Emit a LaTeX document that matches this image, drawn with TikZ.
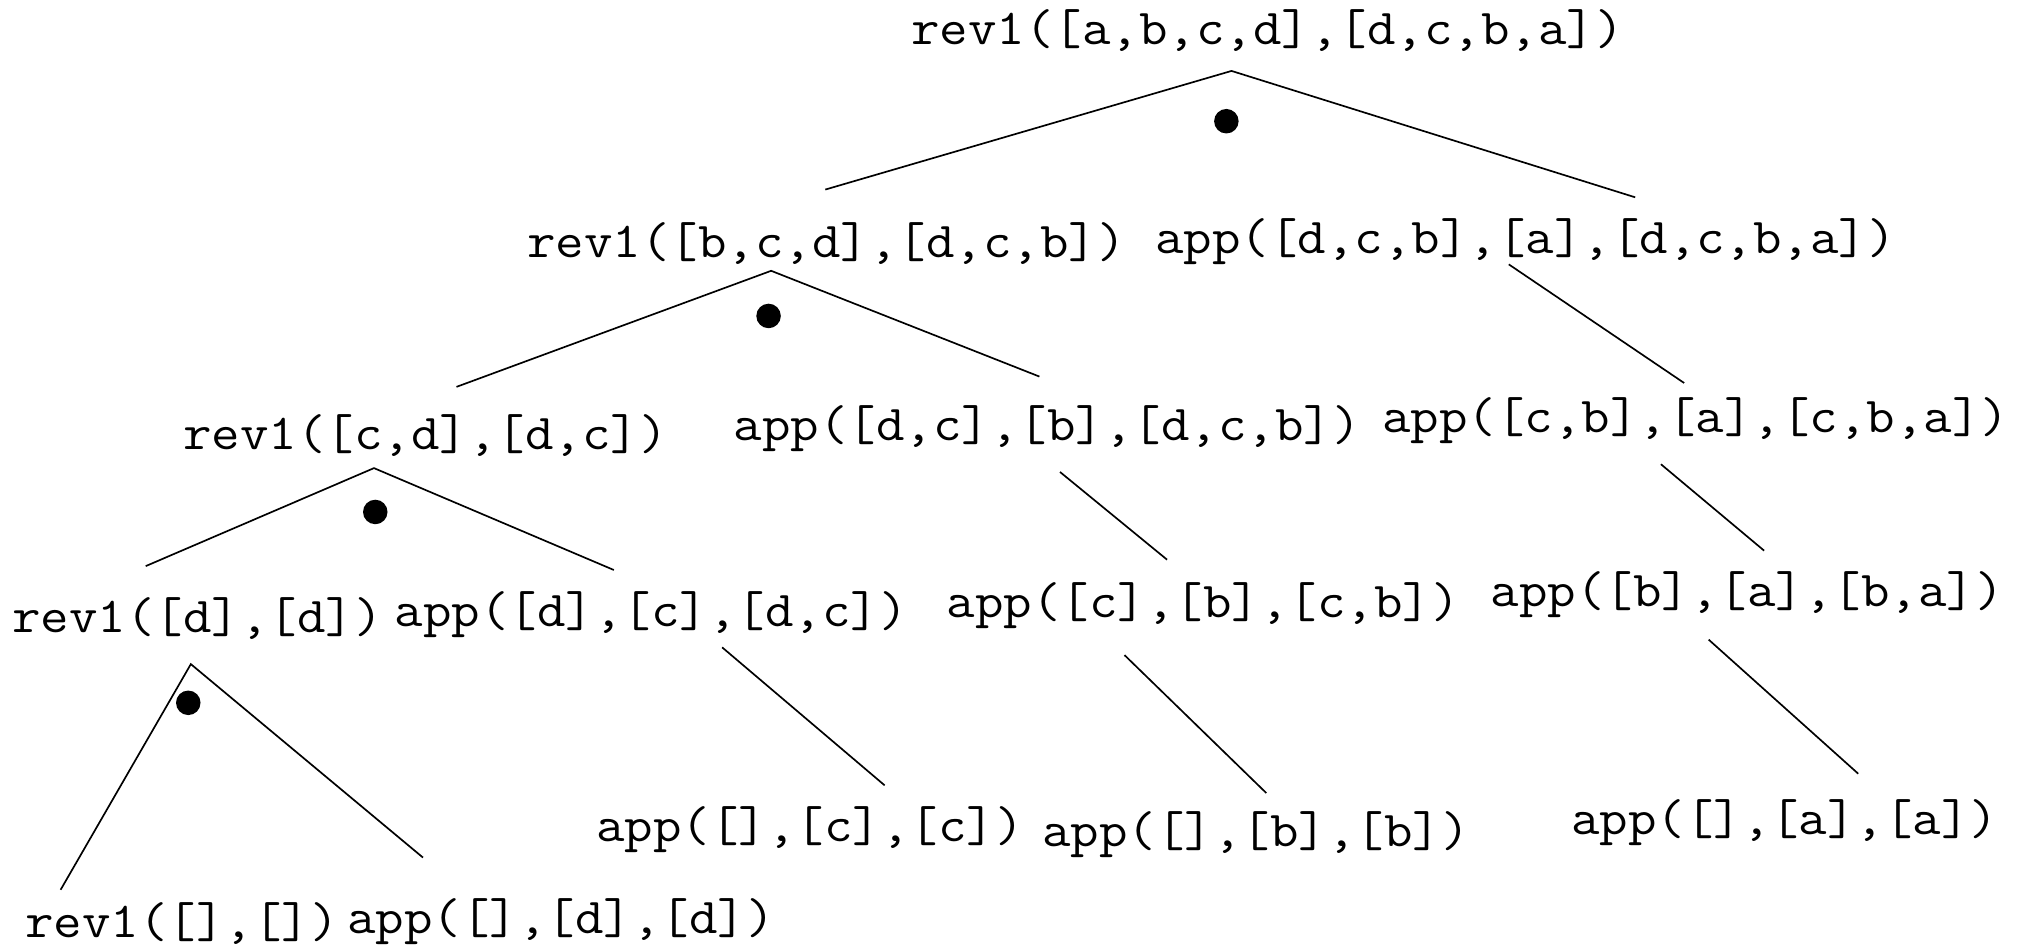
\documentclass[tikz,border=0pt]{standalone}
\usepackage{fontspec}
\setmonofont[FakeStretch=1.10]{Latin Modern Mono}
\begin{document}
\begin{tikzpicture}[x=1pt,y=-1pt,
  lbl/.style={inner sep=0pt,anchor=center,font=\ttfamily\fontsize{39}{42}\selectfont},
  edge/.style={line width=1.3pt},
  choice/.style={fill=black}]
\useasboundingbox (0,0) rectangle (1568,736);
% nodes
\node[lbl] (n0) at (983,24) {rev1([a,b,c,d],[d,c,b,a])};
\node[lbl] (n1) at (641,189) {rev1([b,c,d],[d,c,b])};
\node[lbl] (n2) at (1183,187) {app([d,c,b],[a],[d,c,b,a])};
\node[lbl] (n3) at (330,338) {rev1([c,d],[d,c])};
\node[lbl] (n4) at (812,332) {app([d,c],[b],[d,c,b])};
\node[lbl] (n5) at (1315,326) {app([c,b],[a],[c,b,a])};
\node[lbl] (n6) at (153,480) {rev1([d],[d])};
\node[lbl] (n7) at (505,477) {app([d],[c],[d,c])};
\node[lbl] (n8) at (933,470) {app([c],[b],[c,b])};
\node[lbl] (n9) at (1355,461) {app([b],[a],[b,a])};
\node[lbl] (n10) at (141,716) {rev1([],[])};
\node[lbl] (n11) at (435,715) {app([],[d],[d])};
\node[lbl] (n12) at (628,643) {app([],[c],[c])};
\node[lbl] (n13) at (974,647) {app([],[b],[b])};
\node[lbl] (n14) at (1384,638) {app([],[a],[a])};
% connector ends
\coordinate (e0) at (955,55);
\coordinate (e1) at (640,147);
\coordinate (e2) at (1268,153);
\coordinate (e3) at (598,210);
\coordinate (e4) at (354,300);
\coordinate (e5) at (806,292);
\coordinate (e6) at (1170,205);
\coordinate (e7) at (1306,297);
\coordinate (e8) at (290,363);
\coordinate (e9) at (113,439);
\coordinate (e10) at (476,442);
\coordinate (e11) at (822,366);
\coordinate (e12) at (905,434);
\coordinate (e13) at (1288,360);
\coordinate (e14) at (1368,427);
\coordinate (e15) at (148,515);
\coordinate (e16) at (47,690);
\coordinate (e17) at (328,665);
\coordinate (e18) at (560,502);
\coordinate (e19) at (686,609);
\coordinate (e20) at (872,508);
\coordinate (e21) at (982,615);
\coordinate (e22) at (1325,496);
\coordinate (e23) at (1441,600);
% connectors
\draw[edge] (e1) -- (e0) -- (e2);
\draw[edge] (e6) -- (e7);
\draw[edge] (e4) -- (e3) -- (e5);
\draw[edge] (e11) -- (e12);
\draw[edge] (e13) -- (e14);
\draw[edge] (e9) -- (e8) -- (e10);
\draw[edge] (e18) -- (e19);
\draw[edge] (e20) -- (e21);
\draw[edge] (e22) -- (e23);
\draw[edge] (e16) -- (e15) -- (e17);
% and-markers
\fill[choice] (951,94) circle (9.5);
\fill[choice] (596,245) circle (9.5);
\fill[choice] (291,397) circle (9.5);
\fill[choice] (146,545) circle (9.5);
\end{tikzpicture}
\end{document}
